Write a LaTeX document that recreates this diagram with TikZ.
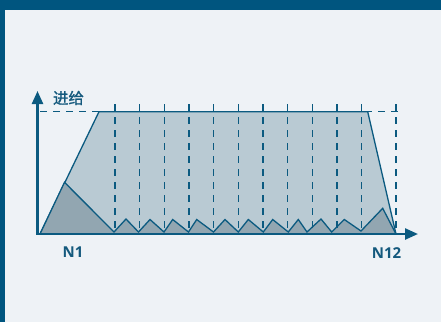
\documentclass[tikz,border=0pt]{standalone}
\usepackage{fontspec}
\newfontfamily\cjk[FakeBold=1.2]{Noto Sans CJK SC}
\newfontfamily\lblfont{Open Sans}
\usetikzlibrary{arrows.meta}
\definecolor{bg}{HTML}{EEF2F6}
\definecolor{framec}{HTML}{00557F}
\definecolor{ln}{HTML}{0B5A80}
\definecolor{lightfill}{HTML}{B9CAD3}
\definecolor{darkfill}{HTML}{92A6B1}
\definecolor{txt}{HTML}{14597D}
\tikzset{
  outline/.style={draw=ln, line width=1.3pt, line join=miter},
  guide/.style={draw=ln, line width=1.2pt, dash pattern=on 7pt off 6pt},
  axisline/.style={draw=ln, line width=2.4pt, -{Triangle[length=13pt,width=11pt]}},
  lbl/.style={text=txt, font=\lblfont\bfseries\fontsize{15}{17}\selectfont, inner sep=0pt},
}
\begin{document}
\begin{tikzpicture}[x=1pt,y=-1pt]
\useasboundingbox (0,0) rectangle (441,322);
\fill[bg] (0,0) rectangle (441,322);
\fill[framec] (0,0) rectangle (441,10);
\fill[framec] (0,0) rectangle (5,322);
% coordinates
\coordinate (O) at (37.5,234);
\coordinate (BL) at (40,234);
\coordinate (TL) at (99,111.7);
\coordinate (TR) at (367.7,111.7);
\coordinate (BR) at (396,234);
% trapezoid
\path[outline, fill=lightfill] (BL) -- (TL) -- (TR) -- (BR) -- cycle;
% dark zigzag region
\path[outline, fill=darkfill] (BL) -- (64.5,182.3) -- (114,232) -- (126,219) -- (138.5,232)
  -- (150,219.5) -- (164,232) -- (172.7,219.5) -- (188.5,232) -- (196.7,219.5)
  -- (213.5,232) -- (225,219.5) -- (238.3,232) -- (248.3,219.5) -- (263.3,232)
  -- (272.7,219.5) -- (288.3,232) -- (298.3,219.5) -- (307,232) -- (321,219)
  -- (331.7,232) -- (344.3,219.5) -- (361,231) -- (382.7,208.3) -- (BR) -- cycle;
% dashed guides
\coordinate (HL) at (40,111.7);
\coordinate (HR) at (403,111.7);
\draw[guide] (HL) -- (HR);
\foreach \i in {0,...,10} {
  \coordinate (gt\i) at ({115+24.66*\i},104);
  \coordinate (gb\i) at ({115+24.66*\i},234);
  \draw[guide] (gt\i) -- (gb\i);
}
\coordinate (gt11) at (396,104);
\coordinate (gb11) at (396,234);
\draw[guide] (gt11) -- (gb11);
% axes
\coordinate (Ytip) at (37.5,91);
\coordinate (Xtip) at (418,234);
\coordinate (O2) at (36.3,234);
\draw[axisline] (O) -- (Ytip);
\draw[axisline] (O2) -- (Xtip);
% labels
\node[text=txt, inner sep=0pt, font=\cjk\fontsize{15.5}{17}\selectfont] (feed) at (68.5,98) {进给};
\node[lbl] (n1) at (73,252.5) {N1};
\node[lbl] (n12) at (386.5,253) {N12};
\end{tikzpicture}
\end{document}
